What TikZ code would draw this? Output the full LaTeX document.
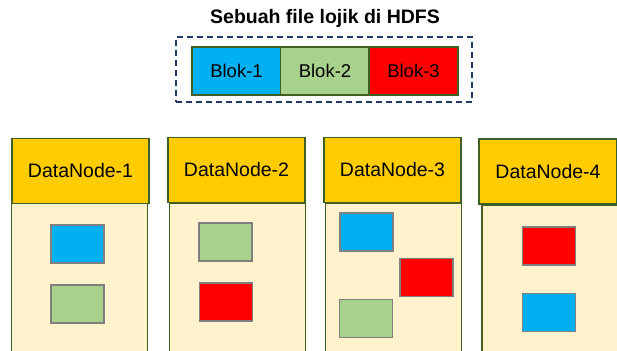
\documentclass[tikz,border=0pt]{standalone}
\usepackage{fontspec}
\setmainfont{Liberation Sans}
\usepackage{tikz}
\usepackage{xcolor}
\usetikzlibrary{positioning}
\definecolor{HD_Blue}{HTML}{00B0F0}
\definecolor{HD_Green}{HTML}{A9D18E}
\definecolor{HD_Red}{HTML}{FF0000}
\definecolor{HD_Gold}{HTML}{FFCC00}
\definecolor{HD_Cream}{HTML}{FFF2CC}
\definecolor{HD_Olive}{HTML}{3F5F24}
\definecolor{HD_Navy}{HTML}{203864}
\definecolor{HD_Gray}{HTML}{7F7F7F}

\begin{document}
\begin{tikzpicture}[x=1pt, y=-1pt,
    blok/.style={draw=HD_Olive, line width=1.5pt, minimum width=89pt, minimum height=48pt, inner sep=0pt, font=\fontsize{18.5}{20}\selectfont},
    kepala/.style={draw=HD_Olive, line width=1.5pt, fill=HD_Gold, minimum width=137pt, minimum height=65pt, inner sep=0pt, font=\fontsize{19.5}{21}\selectfont},
    isi/.style={draw=HD_Olive, line width=1.5pt, fill=HD_Cream, minimum width=136pt, minimum height=160pt, inner sep=0pt},
    kecil/.style={draw=HD_Gray, line width=1.2pt, minimum width=53pt, minimum height=38pt, inner sep=0pt}]

    \clip (0,0) rectangle (617,350);

    % File
    \node[font=\fontsize{19.5}{21}\selectfont\bfseries] (judul) at (325,18) {Sebuah file lojik di HDFS};
    \node[draw=HD_Navy, dash pattern=on 6pt off 4pt, line width=2pt, minimum width=296pt, minimum height=65pt] (fail) at (324,69.5) {};
    \node[blok, fill=HD_Blue] (blok1) at (236.5,71) {Blok-1};
    \node[blok, fill=HD_Green] (blok2) at (325,71) {Blok-2};
    \node[blok, fill=HD_Red] (blok3) at (413.5,71) {Blok-3};

    % DataNodes
    \node[isi] (isi1) at (79.5,283) {};
    \node[isi] (isi2) at (237.5,283) {};
    \node[isi] (isi3) at (393.5,283) {};
    \node[isi] (isi4) at (550,285) {};
    \node[kepala] (dn1) at (80.5,171) {DataNode-1};
    \node[kepala] (dn2) at (236.5,170) {DataNode-2};
    \node[kepala] (dn3) at (392.5,170) {DataNode-3};
    \node[kepala, minimum width=138pt] (dn4) at (548,171.5) {DataNode-4};

    % Replicas
    \node[kecil, fill=HD_Blue] (r11) at (77.5,244) {};
    \node[kecil, fill=HD_Green] (r12) at (77.5,304) {};
    \node[kecil, fill=HD_Green] (r21) at (225.5,242) {};
    \node[kecil, fill=HD_Red] (r22) at (226,302) {};
    \node[kecil, fill=HD_Blue] (r31) at (366.5,232) {};
    \node[kecil, fill=HD_Red] (r32) at (426.5,277.5) {};
    \node[kecil, fill=HD_Green] (r33) at (366,318.5) {};
    \node[kecil, fill=HD_Red] (r41) at (549,246) {};
    \node[kecil, fill=HD_Blue] (r42) at (549,312.5) {};
\end{tikzpicture}
\end{document}
